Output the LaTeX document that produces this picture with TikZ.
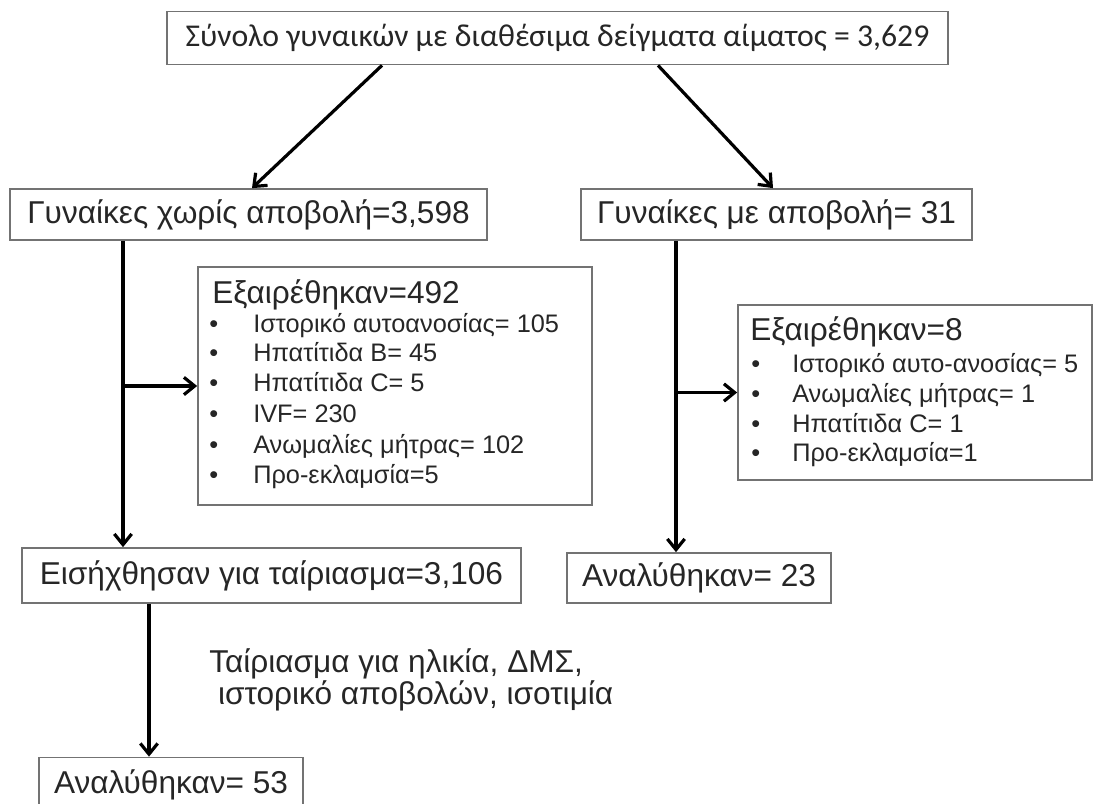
\documentclass[tikz,border=0pt]{standalone}
\usepackage{fontspec}
\setmainfont{Liberation Sans}
\newfontfamily\calfont{Carlito}
\usetikzlibrary{arrows.meta}
\usepackage{xcolor}

\tikzset{
	box/.style={draw=black!55, line width=1.3pt, rectangle, inner sep=0pt, text=black!85},
	arr/.style={line width=2.4pt, -{Straight Barb[length=8pt,width=13pt,line width=2.4pt]}},
	bigtxt/.style={text=black!85, font=\fontsize{23.7}{24}\selectfont, inner sep=0pt},
	smalltxt/.style={text=black!85, font=\fontsize{19}{22}\selectfont, inner sep=0pt, anchor=west, text height=1.6ex, text depth=0.4ex},
	notetxt/.style={text=black!85, font=\fontsize{23.7}{24}\selectfont, inner sep=0pt, anchor=west, align=left}
}

\begin{document}
\begin{tikzpicture}[x=0.75pt,y=-0.75pt]
			\useasboundingbox (0,0) rectangle (1094,803);
			\node[box, minimum width=781*0.75pt, minimum height=53*0.75pt, font=\calfont\fontsize{23.8}{27}\selectfont] (total) at (557.5,38) {Σύνολο γυναικών με διαθέσιμα δείγματα αίματος = 3,629};
			\node[box, bigtxt, draw=black!55, minimum width=477*0.75pt, minimum height=51*0.75pt] (noloss) at (248.5,214.5) {Γυναίκες χωρίς αποβολή=3,598};
			\node[box, bigtxt, draw=black!55, minimum width=391*0.75pt, minimum height=51*0.75pt] (loss) at (776.5,214.5) {Γυναίκες με αποβολή= 31};
			\node[box, minimum width=394*0.75pt, minimum height=238*0.75pt] (excla) at (395,386) {};
			\node[box, minimum width=354*0.75pt, minimum height=175*0.75pt] (exclb) at (915,392.5) {};
			\node[box, bigtxt, draw=black!55, minimum width=499*0.75pt, minimum height=55*0.75pt] (matched) at (271.5,575.5) {Εισήχθησαν για ταίριασμα=3,106};
			\node[box, bigtxt, draw=black!55, minimum width=264*0.75pt, minimum height=50*0.75pt] (analb) at (699,578) {Αναλύθηκαν= 23};
			\node[box, bigtxt, draw=black!55, minimum width=264*0.75pt, minimum height=55*0.75pt] (anala) at (171,785) {Αναλύθηκαν= 53};

			\node[bigtxt, anchor=west] (exclahead) at (212,295) {Εξαιρέθηκαν=492};
			\foreach \t/\y [count=\i] in {Ιστορικό αυτοανοσίας= 105/328, Ηπατίτιδα B= 45/357, Ηπατίτιδα C= 5/387, IVF= 230/418, Ανωμαλίες μήτρας= 102/449, Προ-εκλαμσία=5/479}{
				\node[smalltxt] (exclabul\i) at (209,\y) {•};
				\node[smalltxt] (exclaitem\i) at (253,\y) {\t};
			}
			\node[bigtxt, anchor=west] (exclbhead) at (750,332) {Εξαιρέθηκαν=8};
			\foreach \t/\y [count=\i] in {Ιστορικό αυτο-ανοσίας= 5/368, Ανωμαλίες μήτρας= 1/398, Ηπατίτιδα C= 1/428, Προ-εκλαμσία=1/457}{
				\node[smalltxt] (exclbbul\i) at (751,\y) {•};
				\node[smalltxt] (exclbitem\i) at (792,\y) {\t};
			}
			\node[notetxt] (matchnote) at (209,680) {Ταίριασμα για ηλικία, ΔΜΣ,\\\ ιστορικό αποβολών, ισοτιμία};

			\coordinate (ta) at (382,0);
			\coordinate (tb) at (658,0);
			\coordinate (la) at (252,0);
			\coordinate (lb) at (773,0);
			\coordinate (va) at (123,0);
			\coordinate (vb) at (676,0);
			\coordinate (vc) at (149,0);
			\draw[arr] (total.south -| ta) -- (noloss.north -| la);
			\draw[arr] (total.south -| tb) -- (loss.north -| lb);
			\draw[arr] (noloss.south -| va) -- (matched.north -| va);
			\draw[arr] (va |- excla.west) -- (excla.west);
			\draw[arr] (loss.south -| vb) -- (analb.north -| vb);
			\draw[arr] (vb |- exclb.west) -- (exclb.west);
			\draw[arr] (matched.south -| vc) -- (anala.north -| vc);
		\end{tikzpicture}
\end{document}
